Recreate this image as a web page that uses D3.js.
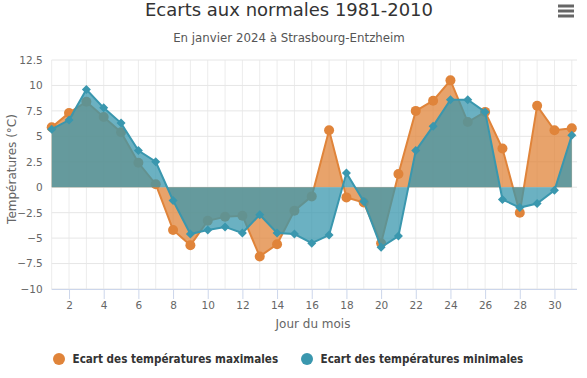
<!DOCTYPE html>
<html><head><meta charset="utf-8">
<script src="https://cdn.jsdelivr.net/npm/d3@7"></script>
<style>
html,body{margin:0;padding:0;background:#fff;}
svg text{font-family:"DejaVu Sans",Verdana,sans-serif;}
</style></head>
<body>
<svg id="c" width="587" height="378"></svg>
<script>
const days = d3.range(1, 32);
const maxDev = [5.9,7.3,8.4,6.9,5.4,2.4,0.3,-4.2,-5.7,-3.3,-2.9,-2.8,-6.8,-5.6,-2.3,-0.9,5.6,-1.0,-1.5,-5.5,1.3,7.5,8.5,10.5,6.4,7.4,3.8,-2.5,8.0,5.6,5.8];
const minDev = [5.7,6.6,9.6,7.8,6.3,3.6,2.5,-1.3,-4.6,-4.2,-3.9,-4.5,-2.7,-4.5,-4.6,-5.5,-4.7,1.4,-1.4,-5.9,-4.8,3.6,6.0,8.6,8.6,7.4,-1.2,-2.0,-1.6,-0.3,5.1];
const yTicks = [-10,-7.5,-5,-2.5,0,2.5,5,7.5,10,12.5];
const xTicks = d3.range(2, 31, 2);
const seriesNames = ["Ecart des températures maximales","Ecart des températures minimales"];
const colors = ["#e0843a","#3a97ae"];

const svg = d3.select("#c");
const L = 51.7, R = 577, T = 60, B = 289;
const x = d3.scaleLinear().domain([1, 31.3]).range([L, R]);
const y = d3.scaleLinear().domain([-10, 12.5]).range([B, T]);
const fmt = v => (v < 0 ? "\u2212" : "") + String(Math.abs(v));

// title
svg.append("text").attr("x", 289).attr("y", 15.5).attr("text-anchor","middle")
  .attr("font-size", 18).attr("fill","#333").text("Ecarts aux normales 1981-2010");
svg.append("text").attr("x", 289).attr("y", 42).attr("text-anchor","middle")
  .attr("font-size", 11.8).attr("fill","#555").text("En janvier 2024 à Strasbourg-Entzheim");

// menu icon
[6,11,16].forEach(yy => svg.append("rect").attr("x", 558).attr("y", yy-1.5).attr("width", 16).attr("height", 3).attr("fill","#666"));

// grid
const g = svg.append("g");
g.selectAll(".vg").data(days).join("line")
  .attr("x1", d => x(d)).attr("x2", d => x(d)).attr("y1", T).attr("y2", B)
  .attr("stroke", "#ececec").attr("stroke-width", 1);
g.selectAll(".hg").data(yTicks).join("line")
  .attr("x1", L).attr("x2", R).attr("y1", d => y(d)).attr("y2", d => y(d))
  .attr("stroke", "#e6e6e6").attr("stroke-width", 1);

// y axis labels
const yAxis = d3.axisLeft(y).tickValues(yTicks).tickSize(0).tickPadding(9).tickFormat(fmt);
svg.append("g").attr("transform", `translate(${L},0)`).call(yAxis)
  .call(a => a.select(".domain").remove())
  .call(a => a.selectAll("text").attr("font-size", 10.5).attr("fill","#666").attr("font-family","DejaVu Sans"));

// x axis
const xAxis = d3.axisBottom(x).tickValues(xTicks).tickSize(10).tickPadding(2.5).tickFormat(d3.format("d"));
svg.append("g").attr("transform", `translate(0,${B})`).call(xAxis)
  .call(a => a.select(".domain").attr("stroke","#ccd6eb").attr("d", `M${L},0.5H${R}`))
  .call(a => a.selectAll(".tick line").attr("stroke","#ccd6eb"))
  .call(a => a.selectAll("text").attr("font-size", 10.5).attr("fill","#666").attr("font-family","DejaVu Sans"));

svg.append("text").attr("x", 313).attr("y", 328).attr("text-anchor","middle")
  .attr("font-size", 12).attr("fill","#666").text("Jour du mois");
svg.append("text").attr("transform", `translate(16,169) rotate(-90)`).attr("text-anchor","middle")
  .attr("font-size", 12).attr("fill","#666").text("Températures (°C)");

// series
const data = [maxDev, minDev];
const area = d3.area().x((d,i) => x(days[i])).y0(y(0)).y1(d => y(d));
const line = d3.line().x((d,i) => x(days[i])).y(d => y(d));
data.forEach((vals, k) => {
  const sg = svg.append("g");
  sg.append("path").datum(vals).attr("d", area).attr("fill", colors[k]).attr("fill-opacity", 0.75);
  sg.append("path").datum(vals).attr("d", line).attr("fill","none").attr("stroke", colors[k]).attr("stroke-width", 2);
  if (k === 0) {
    sg.selectAll("circle").data(vals).join("circle")
      .attr("cx", (d,i) => x(days[i])).attr("cy", d => y(d)).attr("r", 5).attr("fill", colors[k]);
  } else {
    sg.selectAll("path.m").data(vals).join("path").attr("class","m")
      .attr("d", (d,i) => { const cx = x(days[i]), cy = y(d), r = 4.5; return `M${cx},${cy-r}L${cx+r},${cy}L${cx},${cy+r}L${cx-r},${cy}Z`; })
      .attr("fill", colors[k]);
  }
});

// legend
const leg = svg.append("g");
const lx = [59, 307];
seriesNames.forEach((n, k) => {
  leg.append("circle").attr("cx", lx[k]).attr("cy", 359).attr("r", 6).attr("fill", colors[k]);
  leg.append("text").attr("x", lx[k] + 13.5).attr("y", 363).attr("font-size", 11.6).attr("font-weight","bold")
    .attr("font-family", "'DejaVu Sans Condensed','DejaVu Sans',sans-serif").attr("font-stretch","condensed")
    .attr("fill","#333").text(n);
});
</script>
</body></html>
